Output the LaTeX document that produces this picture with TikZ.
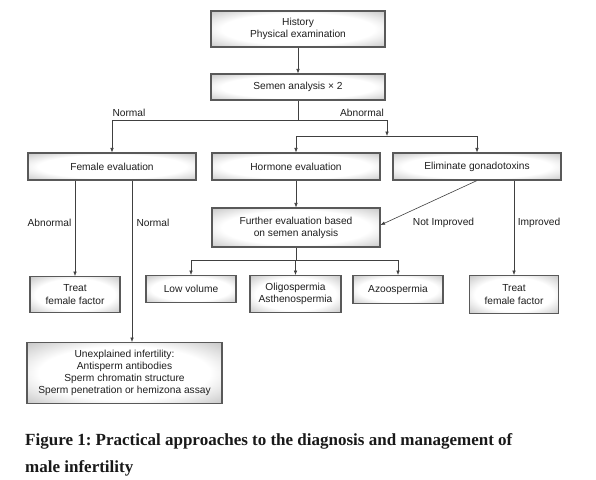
\documentclass[tikz,border=0pt]{standalone}
\usepackage{fontspec}
\setmainfont{Liberation Sans}
\newfontfamily\capfont{Liberation Serif}
\usetikzlibrary{arrows.meta}
\frenchspacing
\pgfdeclareradialshading{boxglow}{\pgfpoint{0bp}{0bp}}{color(0bp)=(white); color(22bp)=(white); color(48bp)=(black!42); color(72bp)=(black!55)}
\tikzset{
  box/.style={draw=black!65, line width=1.1pt, shading=boxglow, inner sep=0pt, align=center,
              font=\fontsize{10.2}{12.2}\selectfont, text=black!88},
  conn/.style={draw=black!75, line width=0.6pt},
  arr/.style={conn, -{Latex[length=4.5pt,width=3.6pt]}},
  lbl/.style={font=\fontsize{10.2}{12.2}\selectfont, text=black!88, inner sep=0pt},
  captxt/.style={font=\capfont\bfseries\fontsize{17}{20}\selectfont, text=black!90, inner sep=0pt, anchor=base west},
}
\begin{document}
\begin{tikzpicture}[x=1pt,y=-1pt]
\useasboundingbox[fill=white] (0,0) rectangle (596,479);
% boxes
\node[box, minimum width=174pt, minimum height=36pt] (hist) at (298,29) {History\\Physical examination};
\node[box, minimum width=174pt, minimum height=26pt] (semen) at (298,87) {Semen analysis × 2};
\node[box, minimum width=168pt, minimum height=27pt] (fem) at (112,166.5) {Female evaluation};
\node[box, minimum width=168pt, minimum height=27pt] (horm) at (296,166.5) {Hormone evaluation};
\node[box, minimum width=168pt, minimum height=27pt] (elim) at (477,166.5) {Eliminate gonadotoxins};
\node[box, minimum width=168pt, minimum height=39pt] (further) at (296,227.5) {Further evaluation based\\on semen analysis};
\node[box, anchor=north, minimum width=90pt, minimum height=36pt] (treatA) at (75,276) {Treat\\female factor};
\node[box, anchor=north, minimum width=90pt, minimum height=27pt] (low) at (191,275) {Low volume};
\node[box, anchor=north, minimum width=91pt, minimum height=37pt] (oligo) at (295.5,275) {Oligospermia\\Asthenospermia};
\node[box, anchor=north, minimum width=90pt, minimum height=28pt] (azoo) at (398,275) {Azoospermia};
\node[box, anchor=north, minimum width=89pt, minimum height=38pt] (treatB) at (514,275) {Treat\\female factor};
\node[box, anchor=north, minimum width=195pt, minimum height=61pt] (unexp) at (124.5,342)
  {Unexplained infertility:\\Antisperm antibodies\\Sperm chromatin structure\\Sperm penetration or hemizona assay};
% connectors
\draw[arr] (hist) -- (semen);
\coordinate (nl) at (112,120);
\coordinate (ab) at (387,120);
\coordinate (ab2) at (387,136);
\draw[conn] (semen.south) -- (semen.south |- nl);
\draw[conn] (nl) -- (ab);
\draw[arr] (nl) -- (fem.north);
\draw[arr] (ab) -- (ab2);
\draw[conn] (horm.north |- ab2) -- (elim.north |- ab2);
\draw[arr] (horm.north |- ab2) -- (horm.north);
\draw[arr] (elim.north |- ab2) -- (elim.north);
\draw[arr] (horm) -- (further);
\draw[arr] (elim.south) -- ([yshift=2.5pt]further.east);
\draw[arr] (elim.south -| treatB.north) -- (treatB.north);
\draw[arr] (fem.south -| treatA.north) -- (treatA.north);
\draw[arr] ([xshift=20pt]fem.south) -- ([xshift=20pt]fem.south |- unexp.north);
\coordinate (fs) at (296,260);
\draw[conn] (further.south) -- (fs);
\draw[conn] (low.north |- fs) -- (azoo.north |- fs);
\draw[arr] (low.north |- fs) -- (low.north);
\draw[arr] (oligo.north |- fs) -- (oligo.north);
\draw[arr] (azoo.north |- fs) -- (azoo.north);
% labels
\node[lbl] (lnormal) at (129,113) {Normal};
\node[lbl] (labn) at (362,113) {Abnormal};
\node[lbl] (labn2) at (49.5,223) {Abnormal};
\node[lbl] (lnormal2) at (153,223) {Normal};
\node[lbl] (lnotimp) at (443.5,223) {Not Improved};
\node[lbl] (limp) at (539,223) {Improved};
% caption
\node[captxt] (cap1) at (25,445) {Figure 1: Practical approaches to the diagnosis and management of};
\node[captxt] (cap2) at (25,472) {male infertility};
\end{tikzpicture}
\end{document}
